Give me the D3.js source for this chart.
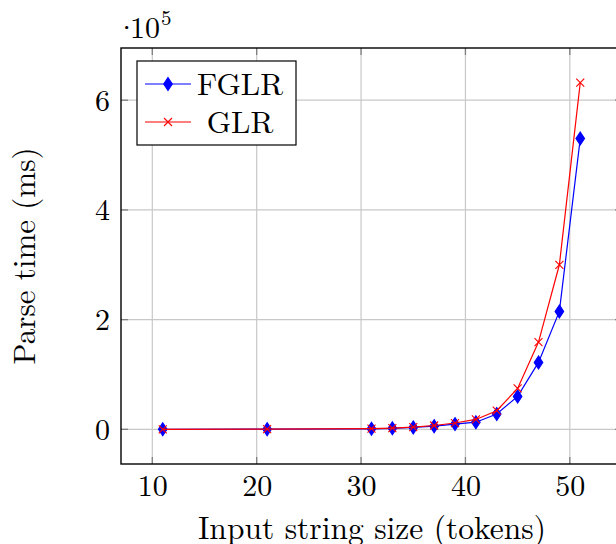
<!DOCTYPE html>
<html>
<head>
<meta charset="utf-8">
<script src="https://cdn.jsdelivr.net/npm/d3@7"></script>
<style>
  html, body { margin: 0; padding: 0; background: #fff; overflow: hidden; }
</style>
</head>
<body>
<svg id="chart" width="616" height="544"></svg>
<script>
// ---- data ----
const tokens = [11, 21, 31, 33, 35, 37, 39, 41, 43, 45, 47, 49, 51];
const fglr = [0, 300, 1000, 1800, 3500, 5800, 9500, 13000, 28000, 60000, 122000, 215000, 530000];
const glr  = [0, 400, 1200, 2200, 4000, 7000, 11500, 18000, 34000, 74500, 159000, 300000, 632000];
const xTicks = [10, 20, 30, 40, 50];
const yTicks = [0, 200000, 400000, 600000];
const seriesNames = ["FGLR", "GLR"];
const seriesColors = ["#0000ff", "#ff0000"];
const xLabel = "Input string size (tokens)";
const yLabel = "Parse time (ms)";

const FONT = '"Latin Modern Roman", "CMU Serif", "Liberation Serif", serif';

// ---- layout ----
const L = 121, R = 622, T = 48, B = 464;
const svg = d3.select("#chart");

const x = d3.scaleLinear().domain([7, 55]).range([L, R]);
const y = d3.scaleLinear().domain([-63200, 695200]).range([B, T]);

// grid
const grid = svg.append("g");
grid.selectAll("line.gx").data(xTicks).enter().append("line")
  .attr("x1", d => x(d)).attr("x2", d => x(d)).attr("y1", T).attr("y2", B)
  .attr("stroke", "#c8c8c8").attr("stroke-width", 1.2);
grid.selectAll("line.gy").data(yTicks).enter().append("line")
  .attr("y1", d => y(d)).attr("y2", d => y(d)).attr("x1", L).attr("x2", R)
  .attr("stroke", "#c8c8c8").attr("stroke-width", 1.2);

// inner ticks
const tk = svg.append("g").attr("stroke", "#808080").attr("stroke-width", 1.3);
xTicks.forEach(d => {
  tk.append("line").attr("x1", x(d)).attr("x2", x(d)).attr("y1", B).attr("y2", B - 7);
  tk.append("line").attr("x1", x(d)).attr("x2", x(d)).attr("y1", T).attr("y2", T + 7);
});
yTicks.forEach(d => {
  tk.append("line").attr("y1", y(d)).attr("y2", y(d)).attr("x1", L).attr("x2", L + 7);
  tk.append("line").attr("y1", y(d)).attr("y2", y(d)).attr("x1", R).attr("x2", R - 7);
});

// axes via d3 for labels
const xAxis = d3.axisBottom(x).tickValues(xTicks).tickSize(0).tickPadding(0).tickFormat(d3.format("d"));
const gx = svg.append("g").attr("transform", `translate(0,${B})`).call(xAxis);
gx.attr("font-family", null);
gx.select(".domain").remove();
gx.selectAll("text").attr("dy", null).attr("y", 32)
  .style("font-family", FONT).style("font-size", "30px").attr("fill", "#000");

const yAxis = d3.axisLeft(y).tickValues(yTicks).tickSize(0).tickPadding(0).tickFormat(d => d / 100000);
const gy = svg.append("g").attr("transform", `translate(110,0)`).call(yAxis);
gy.attr("font-family", null);
gy.select(".domain").remove();
gy.selectAll("text").attr("dy", null).attr("y", 10).attr("x", 0)
  .style("font-family", FONT).style("font-size", "30px").attr("fill", "#000");

// box
svg.append("rect").attr("x", L).attr("y", T).attr("width", R - L).attr("height", B - T)
  .attr("fill", "none").attr("stroke", "#000").attr("stroke-width", 1.4);

// series
const line = d3.line().x(d => x(d[0])).y(d => y(d[1]));
const seriesData = [fglr, glr];
const diamond = "M0,-6.5 L4.3,0 L0,6.5 L-4.3,0 Z";
const cross = "M-4,-4 L4,4 M-4,4 L4,-4";

seriesData.forEach((vals, i) => {
  const pts = tokens.map((t, j) => [t, vals[j]]);
  svg.append("path").datum(pts).attr("d", line)
    .attr("fill", "none").attr("stroke", seriesColors[i]).attr("stroke-width", 1.2);
  const m = svg.append("g");
  m.selectAll("path").data(pts).enter().append("path")
    .attr("transform", d => `translate(${x(d[0])},${y(d[1])})`)
    .attr("d", i === 0 ? diamond : cross)
    .attr("fill", i === 0 ? seriesColors[i] : "none")
    .attr("stroke", seriesColors[i]).attr("stroke-width", 1.1);
});

// legend
const lg = svg.append("g");
lg.append("rect").attr("x", 137).attr("y", 61).attr("width", 159).attr("height", 84)
  .attr("fill", "#fff").attr("stroke", "#000").attr("stroke-width", 1.2);
const rows = [84, 122];
seriesNames.forEach((name, i) => {
  lg.append("line").attr("x1", 145).attr("x2", 191).attr("y1", rows[i]).attr("y2", rows[i])
    .attr("stroke", seriesColors[i]).attr("stroke-width", 1.2);
  lg.append("path").attr("transform", `translate(168,${rows[i]})`)
    .attr("d", i === 0 ? diamond : cross)
    .attr("fill", i === 0 ? seriesColors[i] : "none")
    .attr("stroke", seriesColors[i]).attr("stroke-width", 1.1);
  lg.append("text").attr("x", 240).attr("y", rows[i] + 11).attr("text-anchor", "middle")
    .style("font-family", FONT).style("font-size", "31px")
    .text(name);
});

// axis labels
svg.append("text").attr("x", 372).attr("y", 539).attr("text-anchor", "middle")
  .style("font-family", FONT).style("font-size", "31.5px")
  .text(xLabel);
svg.append("text").attr("transform", "translate(35,256) rotate(-90)").attr("text-anchor", "middle")
  .style("font-family", FONT).style("font-size", "31px")
  .text(yLabel);

// exponent
const ex = svg.append("text").attr("y", 38)
  .style("font-family", FONT).style("font-size", "30px");
ex.append("tspan").attr("x", 115).text("·");
ex.append("tspan").attr("x", 130).text("10");
ex.append("tspan").style("font-size", "21px").attr("dy", -13).attr("dx", 1).text("5");
</script>
</body>
</html>
